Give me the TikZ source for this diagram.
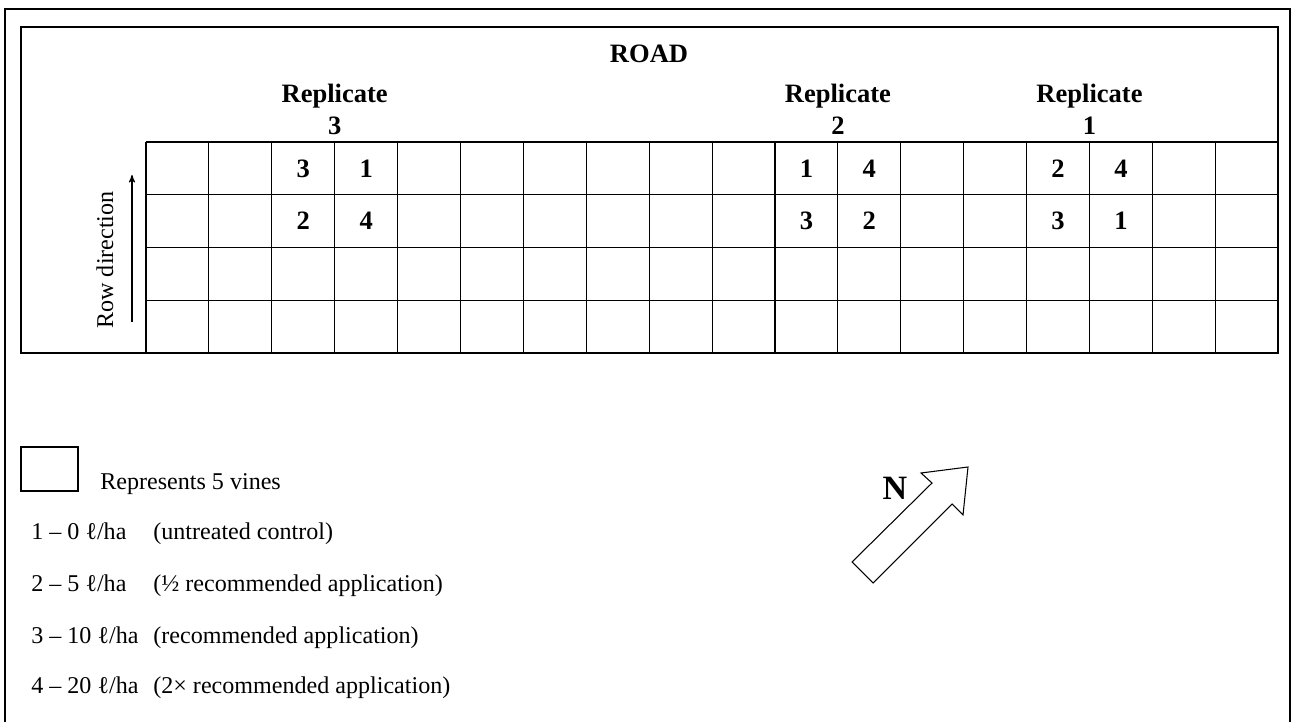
\documentclass[tikz,border=0pt]{standalone}
\usepackage{fontspec}
\setmainfont{Liberation Serif}
\usetikzlibrary{arrows}

\tikzset{
  cellnum/.style={font=\fontsize{15.1}{18}\selectfont\bfseries, inner sep=0pt},
  replbl/.style={cellnum, anchor=base},
  legtext/.style={font=\fontsize{13.7}{16}\selectfont, inner sep=0pt, anchor=base west},
  plotline/.style={line width=0.6pt},
}

\begin{document}
\begin{tikzpicture}[x=0.02cm,y=-0.02cm]
\useasboundingbox (0,0) rectangle (1293,722);
\draw[line width=0.8pt] (5,740) -- (5,9) -- (1290,9) -- (1290,740);
\draw[plotline] (21,27) rectangle (1278,353);

% plots
\draw[plotline] (146,142) -- (1278,142);
\foreach \i in {0,...,18}
  \draw[plotline] ({146+62.9*\i},142) -- ({146+62.9*\i},353);
\foreach \j in {1,2,3}
  \draw[plotline] (146,{142+52.75*\j}) -- (1278,{142+52.75*\j});

\foreach \c/\r/\t in {3/1/3,4/1/1,3/2/2,4/2/4,11/1/1,12/1/4,11/2/3,12/2/2,15/1/2,16/1/4,15/2/3,16/2/1}
  \node[cellnum] (p\c-\r) at ({146+62.9*(\c-0.5)},{142+52.75*(\r-0.5)}) {\t};

\node[cellnum] (road) at (649,54) {ROAD};
\node[replbl] (rep3)  at (334.7,103) {Replicate};
\node[replbl] (rep3n) at (334.7,135) {3};
\node[replbl] (rep2)  at (837.9,103) {Replicate};
\node[replbl] (rep2n) at (837.9,135) {2};
\node[replbl] (rep1)  at (1089.5,103) {Replicate};
\node[replbl] (rep1n) at (1089.5,135) {1};

\node[legtext, rotate=90, anchor=center] (rowdir) at (105,260) {Row direction};
\coordinate (rowS) at (132,322);
\coordinate (rowE) at (132,175);
\draw[->,>=stealth',plotline] (rowS) -- (rowE);

% legend
\draw[plotline] (21,447) rectangle (78,491);
\node[legtext] (vines) at (100,489) {Represents 5 vines};
\node[legtext] (dose1) at (31,539.3) {1 – 0 ℓ/ha};
\node[legtext] (desc1) at (153,539.3) {(untreated control)};
\node[legtext] (dose2) at (31,591.7) {2 – 5 ℓ/ha};
\node[legtext] (desc2) at (153,591.7) {(½ recommended application)};
\node[legtext] (dose3) at (31,643.3) {3 – 10 ℓ/ha};
\node[legtext] (desc3) at (153,643.3) {(recommended application)};
\node[legtext] (dose4) at (31,693.3) {4 – 20 ℓ/ha};
\node[legtext] (desc4) at (153,693.3) {(2× recommended application)};

% north
\draw[plotline, fill=white] (852,562) -- (873,583) -- (952,504) -- (963,515)
  -- (968,467) -- (921,473) -- (932,483) -- cycle;
\node[font=\fontsize{19.4}{20}\selectfont\bfseries, inner sep=0pt] (north) at (895,488) {N};
\end{tikzpicture}
\end{document}
